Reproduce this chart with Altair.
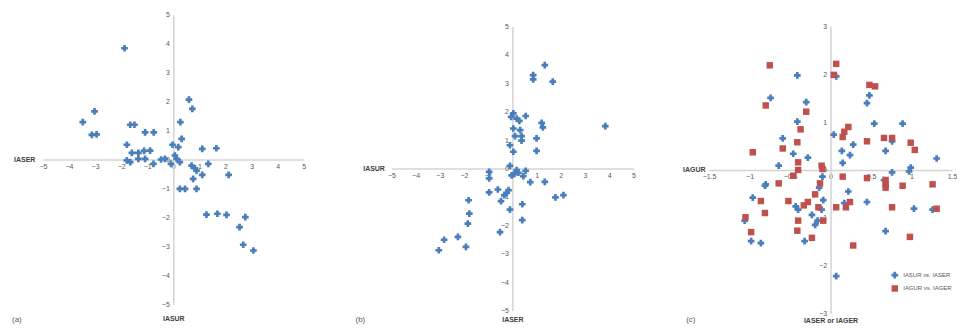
import altair as alt
import pandas as pd

# ---------------- data ----------------
# Panel (a): x = IASUR, y = IASER
a_x = [-1.87, 0.60, 0.73, -3.02, -3.47, -3.12, -2.94, -1.65, -1.49, -1.08, -0.75, 0.27, 0.32,
       -1.78, -0.03, 0.19, 1.11, 1.65, -1.59, -1.34, -1.12, -0.89, -1.78, -1.65, -1.34, -1.08,
       -0.76, -0.47, -0.32, -0.09, 0.06, 0.13, 0.25, 0.70, 0.83, 0.89, 1.34, 1.11, 0.76, 2.12,
       0.25, 0.45, 0.89, 1.27, 1.69, 2.04, 2.76, 2.54, 2.68, 3.07]
a_y = [3.84, 2.07, 1.75, 1.66, 1.29, 0.85, 0.87, 1.20, 1.20, 0.94, 0.94, 1.29, 0.71,
       0.51, 0.51, 0.43, 0.37, 0.39, 0.23, 0.23, 0.30, 0.31, -0.03, -0.09, 0.02, 0.02,
       -0.15, 0.00, 0.02, -0.15, 0.14, 0.02, -0.09, -0.21, -0.30, -0.38, -0.15, -0.53, -0.67, -0.53,
       -1.01, -1.01, -1.01, -1.90, -1.87, -1.91, -1.99, -2.33, -2.94, -3.14]

# Panel (b): x = IASER, y = IASUR
b_x = [1.34, 0.86, 0.86, 1.67, 3.84, 0.04, -0.05, 0.18, 0.29, 0.55, 1.21, 1.26, 0.04, 0.32,
       0.11, 0.38, 0.38, 1.00, -0.10, 1.00, 0.04, -0.10, -0.96, -0.96, 0.18, 0.25, 0.08, -0.03,
       0.55, 0.45, 0.74, 1.34, -0.96, -0.60, -0.16, -0.23, -0.33, -0.47, 1.78, 2.11, -1.81,
       0.41, -0.10, -1.78, -1.84, 0.41, -0.51, -2.25, -2.82, -1.92, -3.04]
b_y = [3.64, 3.29, 3.14, 3.06, 1.49, 1.94, 1.82, 1.76, 1.68, 1.85, 1.61, 1.45, 1.41, 1.35,
       1.14, 1.14, 0.98, 1.06, 0.82, 0.62, 0.59, 0.09, -0.12, -0.35, -0.06, -0.15, -0.20, -0.24,
       -0.08, -0.27, -0.48, -0.47, -0.84, -0.74, -0.76, -0.86, -0.94, -1.15, -1.02, -0.94, -1.12,
       -1.26, -1.45, -1.59, -1.94, -1.82, -2.24, -2.41, -2.51, -2.76, -2.88]

# Panel (c): series 1 (IASUR vs. IASER), series 2 (IAGUR vs. IAGER)
c1_x = [-0.41, 0.07, -0.74, -0.30, 0.48, 0.45, -0.41, 0.54, 0.89, 0.04, -0.59, 0.28, 0.76,
        0.14, 0.24, 0.68, -0.46, -0.28, 1.31, -0.64, 0.15, 0.99, 0.97, 0.76, -0.10, 0.66,
        -0.80, -0.81, -0.14, 0.22, -0.96, -0.09, 0.17, 0.45, -0.43, -0.40, -0.11, -0.23,
        1.03, 1.26, -0.16, -0.19, -1.06, 0.68, -0.98, -0.86, -0.32, 0.07]
c1_y = [1.98, 1.96, 1.51, 1.42, 1.56, 1.40, 1.01, 0.97, 0.97, 0.74, 0.66, 0.53, 0.60,
        0.40, 0.31, 0.40, 0.34, 0.26, 0.24, 0.09, 0.15, 0.05, -0.03, -0.05, -0.14, -0.21,
        -0.30, -0.33, -0.37, -0.45, -0.58, -0.63, -0.69, -0.67, -0.76, -0.83, -0.83, -0.94,
        -0.81, -0.83, -1.06, -1.15, -1.06, -1.28, -1.49, -1.53, -1.49, -2.22]
c2_x = [-0.75, 0.07, 0.04, 0.48, 0.55, -0.80, -0.30, -0.37, 0.22, 0.17, 0.15, 0.66, 0.76,
        -0.41, 0.45, -0.59, 0.99, 1.04, -0.96, -0.40, -0.40, -0.11, -0.10, -0.46, -0.64, 0.15,
        0.45, 0.68, 0.68, 0.68, 0.89, 1.26, -0.13, -0.19, -0.86, -0.52, -0.28, -0.33, -0.15,
        0.24, 0.19, 0.07, 0.76, 1.31, -0.81, -0.40, -0.09, -1.05, -0.98, -0.41, -0.23, 0.98, 0.28]
c2_y = [2.19, 2.22, 1.99, 1.78, 1.75, 1.35, 1.22, 0.85, 0.90, 0.80, 0.69, 0.67, 0.67,
        0.58, 0.60, 0.45, 0.57, 0.42, 0.37, 0.16, 0.00, 0.09, 0.02, -0.12, -0.28, -0.14,
        -0.17, -0.21, -0.30, -0.37, -0.33, -0.30, -0.28, -0.51, -0.65, -0.65, -0.67, -0.74, -0.78,
        -0.67, -0.78, -0.78, -0.78, -0.81, -0.90, -1.06, -1.06, -0.99, -1.30, -1.27, -1.42, -1.40, -1.58]

series_names = ["IASUR vs. IASER", "IAGUR vs. IAGER"]
ab_ticks = [-5, -4, -3, -2, -1, 0, 1, 2, 3, 4, 5]
c_xticks = [-1.5, -1, -0.5, 0, 0.5, 1, 1.5]
c_yticks = [-3, -2, -1, 0, 1, 2, 3]

BLUE = "#4a7ebb"
RED = "#c0504d"
LABEL = "#595959"
AXIS = "#d4d4d4"


def panel(df, W, H, xdom, ydom, xticks, yticks, xtitle, ytitle, letter,
          ytitle_gap, xtitle_gap, letter_dx, letter_dy, legend=False):
    xaxis = alt.Axis(orient="bottom", offset=-H / 2, values=xticks, format="~g",
                     grid=False, ticks=False, domainColor=AXIS, domainWidth=1.5,
                     labelColor=LABEL, labelFontSize=7, labelPadding=3,
                     labelFont="Liberation Sans", title=xtitle, titleFontSize=7,
                     titleFont="Liberation Sans", titleColor="#404040", titleFontWeight="bold",
                     titleX=W / 2, titleY=H / 2 + xtitle_gap, titleBaseline="middle",
                     titleAlign="center", labelFlush=False, labelOverlap=False)
    yaxis = alt.Axis(orient="left", offset=-W / 2, values=yticks, format="~g",
                     grid=False, ticks=False, domainColor=AXIS, domainWidth=1.5,
                     labelColor=LABEL, labelFontSize=7, labelPadding=4,
                     labelFont="Liberation Sans", title=ytitle, titleFontSize=7,
                     titleFont="Liberation Sans", titleColor="#404040", titleFontWeight="bold",
                     titleAngle=0, titleX=-W / 2 - ytitle_gap, titleY=H / 2,
                     titleAlign="right", titleBaseline="middle",
                     labelFlush=False, labelOverlap=False)
    base = alt.Chart(df)
    if legend:
        pts = base.mark_point(filled=True, opacity=1).encode(
            x=alt.X("x:Q", scale=alt.Scale(domain=xdom, nice=False, zero=False), axis=xaxis),
            y=alt.Y("y:Q", scale=alt.Scale(domain=ydom, nice=False, zero=False), axis=yaxis),
            color=alt.Color("s:N", scale=alt.Scale(domain=series_names, range=[BLUE, RED]),
                            legend=alt.Legend(title=None, orient="none", legendX=851,
                                              legendY=257, labelFontSize=6, padding=0,
                                              labelColor=LABEL, symbolSize=14,
                                              rowPadding=6, labelFont="Liberation Sans")),
            shape=alt.Shape("s:N", scale=alt.Scale(domain=series_names, range=["cross", "square"])),
            size=alt.Size("s:N", scale=alt.Scale(domain=series_names, range=[45, 42]), legend=None),
        )
    else:
        pts = base.mark_point(filled=True, opacity=1, shape="cross", size=45, color=BLUE).encode(
            x=alt.X("x:Q", scale=alt.Scale(domain=xdom, nice=False, zero=False), axis=xaxis),
            y=alt.Y("y:Q", scale=alt.Scale(domain=ydom, nice=False, zero=False), axis=yaxis),
        )
    lab = alt.Chart(pd.DataFrame({"t": [letter]})).mark_text(
        align="left", baseline="middle", fontSize=8, color=LABEL, font="Liberation Sans"
    ).encode(x=alt.value(letter_dx), y=alt.value(H + letter_dy), text="t:N")
    return alt.layer(pts, lab).properties(width=W, height=H)


def spacer(W):
    return alt.Chart(pd.DataFrame({"t": [0]})).mark_rule(opacity=0, strokeWidth=0.5).encode(
        x=alt.value(0), x2=alt.value(10), y=alt.value(0)).properties(width=W, height=1)


df_a = pd.DataFrame({"x": a_x, "y": a_y})
df_b = pd.DataFrame({"x": b_x, "y": b_y})
df_c = pd.concat([
    pd.DataFrame({"x": c1_x, "y": c1_y, "s": series_names[0]}),
    pd.DataFrame({"x": c2_x, "y": c2_y, "s": series_names[1]}),
])

pa = panel(df_a, 262, 291, [-5, 5], [-5, 5], ab_ticks, ab_ticks, "IASUR", "IASER", "(a)",
           8, 14, -31, 16)
pb = panel(df_b, 243, 285, [-5, 5], [-5, 5], ab_ticks, ab_ticks, "IASER", "IASUR", "(b)",
           7, 9, -36, 10)
pc = panel(df_c, 244, 288, [-1.5, 1.5], [-3, 3], c_xticks, c_yticks, "IASER or IAGER", "IAGUR",
           "(c)", 4, 7, -23, 7, legend=True)

colb = alt.vconcat(spacer(243), pb, spacing=7)
colc = alt.vconcat(spacer(244), pc, spacing=7)

chart = alt.hconcat(alt.hconcat(pa, colb, spacing=50), colc, spacing=47).properties(
    padding={"left": 4, "top": 2, "right": 0, "bottom": 0}
).configure(background="white").configure_view(stroke=None)

chart.save("out.html", embed_options={"renderer": "svg", "actions": False})
